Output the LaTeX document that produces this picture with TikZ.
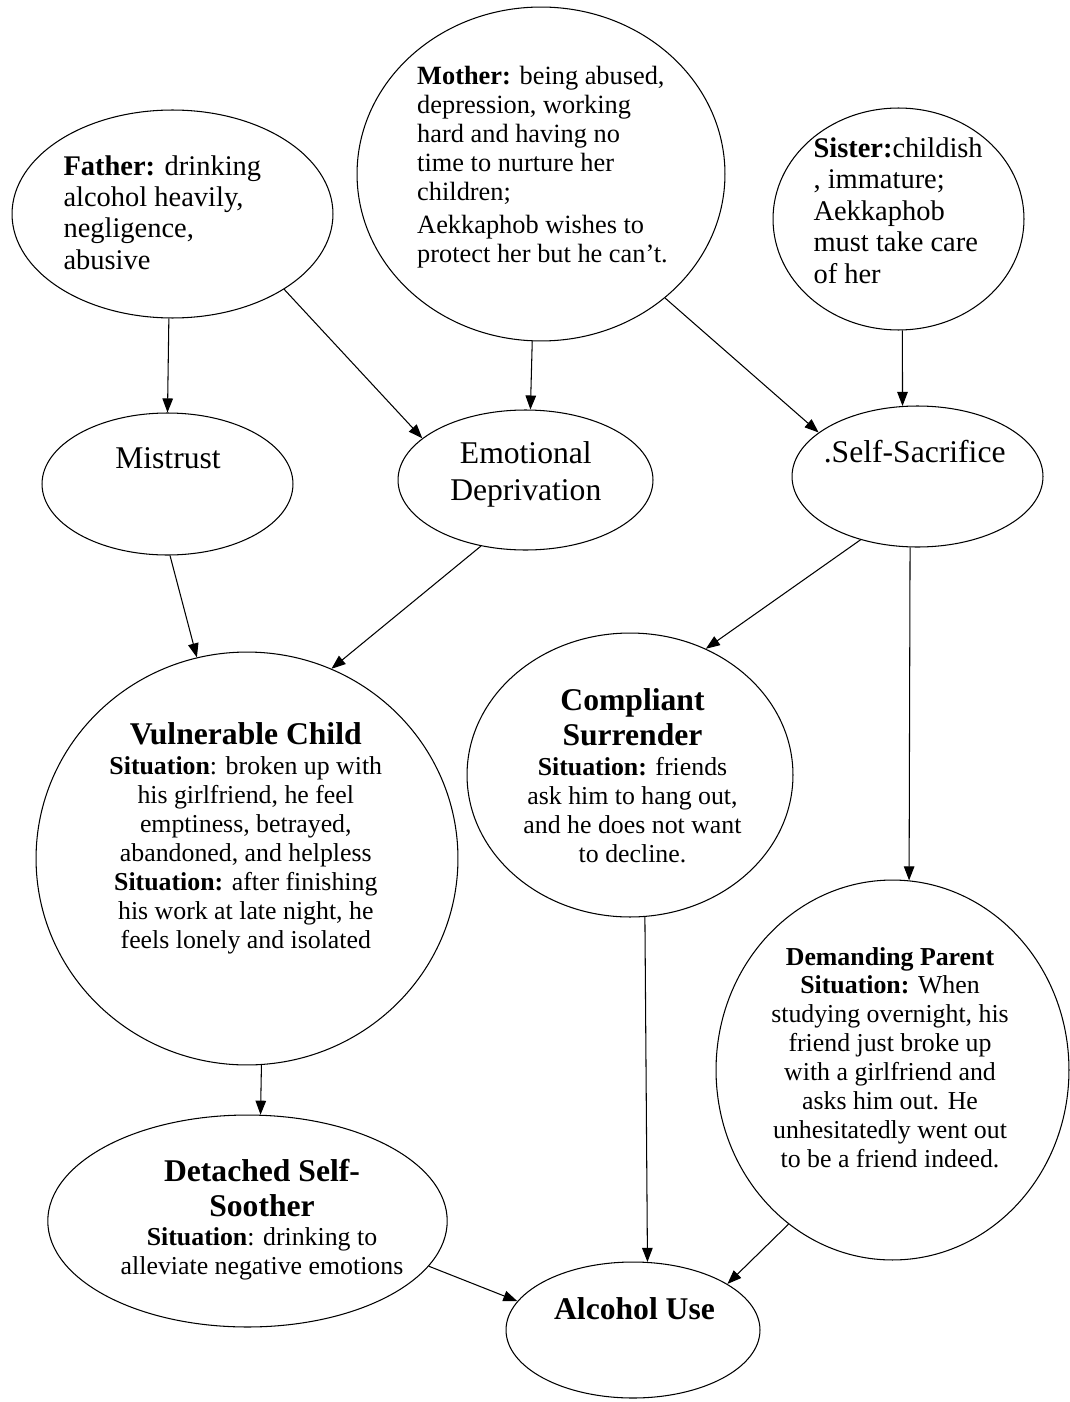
\documentclass[tikz,border=0pt]{standalone}
\usepackage{fontspec}
\setmainfont{Liberation Serif}
\usetikzlibrary{arrows.meta, shapes.geometric}
\newcommand{\bodyfnt}{\fontsize{14.7}{16.5}\selectfont}
\newcommand{\ttlfnt}{\fontsize{18}{20}\selectfont\bfseries}
\tikzset{
  every picture/.style={line width=0.6pt},
  oval/.style 2 args={draw, ellipse, inner sep=0pt, minimum width=#1, minimum height=#2},
  txt/.style={inner sep=0pt, font=\bodyfnt, align=center, anchor=base},
  ltxt/.style={txt, align=left, anchor=base west},
  schema/.style={inner sep=0pt, font=\fontsize{18}{21}\selectfont, align=center, anchor=base},
  arrow/.style={-{Triangle[length=8pt,width=6pt]}, draw=black},
}

\begin{document}
\begin{tikzpicture}[x=0.02cm, y=-0.02cm]
  \useasboundingbox (0,0) rectangle (1070,1402);
  % family (text placed by the baseline of its last line)
  \node[oval={6.42cm}{4.16cm}] (father) at (172.5,214) {};
  \node[oval={7.36cm}{6.68cm}] (mother) at (541,174) {};
  \node[oval={5.02cm}{4.44cm}] (sister) at (898.5,219) {};
  \node[ltxt, font=\fontsize{16.2}{17.8}\selectfont] (fathertxt) at (63,269)
    {\textbf{Father:} drinking\\ alcohol heavily,\\ negligence,\\ abusive};
  \node[ltxt, font=\fontsize{15}{16.5}\selectfont] (mothertxt) at (416.7,262)
    {\textbf{Mother:} being abused,\\ depression, working\\ hard and having no\\ time to nurture her\\ children;\\[2pt] Aekkaphob wishes to\\ protect her but he can’t.};
  \node[ltxt, font=\fontsize{16.2}{17.9}\selectfont] (sistertxt) at (813,283)
    {\textbf{Sister:}childish\\ , immature;\\ Aekkaphob\\ must take care\\ of her};
  % schemas
  \node[oval={5.02cm}{2.84cm}] (mistrust) at (167.5,484) {};
  \node[oval={5.10cm}{2.80cm}] (emo) at (525.5,480) {};
  \node[oval={5.02cm}{2.82cm}] (selfsac) at (917.5,476.5) {};
  \node[schema] (mistrusttxt) at (168,468) {Mistrust};
  \node[schema] (emotxt) at (525.8,500) {Emotional\\ Deprivation};
  \node[schema] (selfsactxt) at (914.7,462.7) {.Self-Sacrifice};
  % modes
  \node[oval={8.44cm}{8.26cm}] (vulner) at (247,858.5) {};
  \node[oval={6.52cm}{5.68cm}] (compl) at (630,775) {};
  \node[oval={7.06cm}{7.60cm}] (demand) at (892.5,1070) {};
  \node[oval={7.99cm}{4.24cm}] (detach) at (247.5,1221) {};
  \node[oval={5.08cm}{2.72cm}] (alcohol) at (633,1330) {};
  \node[txt] (vulnertxt) at (245.8,948)
    {{\ttlfnt Vulnerable Child}\\[0.5pt] \textbf{Situation}: broken up with\\ his girlfriend, he feel\\ emptiness, betrayed,\\ abandoned, and helpless\\ \textbf{Situation:} after finishing\\ his work at late night, he\\ feels lonely and isolated};
  \node[txt] (compltxt) at (632.5,862)
    {{\ttlfnt Compliant}\\[3pt] {\ttlfnt Surrender}\\[0.5pt] \textbf{Situation:} friends\\ ask him to hang out,\\ and he does not want\\ to decline.};
  \node[txt] (demandtxt) at (890,1167)
    {\textbf{Demanding Parent}\\[-1pt] \textbf{Situation:} When\\ studying overnight, his\\ friend just broke up\\ with a girlfriend and\\ asks him out. He\\ unhesitatedly went out\\ to be a friend indeed.};
  \node[txt] (detachtxt) at (262,1274)
    {{\ttlfnt Detached Self-}\\[3pt] {\ttlfnt Soother}\\ \textbf{Situation}: drinking to\\ alleviate negative emotions};
  \node[txt, font=\ttlfnt] (alcoholtxt) at (634.5,1319) {Alcohol Use};
  % arrows
  \draw[arrow] (father.-92.5) -- (mistrust.90);
  \draw[arrow] (father.-34.2) -- (emo.158.4);
  \draw[arrow] (mother.-93.8) -- (emo.86.3);
  \draw[arrow] (mother.-45.5) -- (selfsac.156.5);
  \draw[arrow] (sister.-88.2) -- (selfsac.102.4);
  \draw[arrow] (mistrust.-88) -- (vulner.104.8);
  \draw[arrow] (emo.-124.9) -- (vulner.66);
  \draw[arrow] (selfsac.-132.2) -- (compl.59.6);
  \draw[arrow] (selfsac.-96.9) -- (demand.85);
  \draw[arrow] (vulner.-86.7) -- (detach.83.8);
  \draw[arrow] (compl.-84.9) -- (alcohol.78.6);
  \draw[arrow] (detach.-14.75) -- (alcohol.166.5);
  \draw[arrow] (demand.-124.8) -- (alcohol.26.5);
\end{tikzpicture}
\end{document}
